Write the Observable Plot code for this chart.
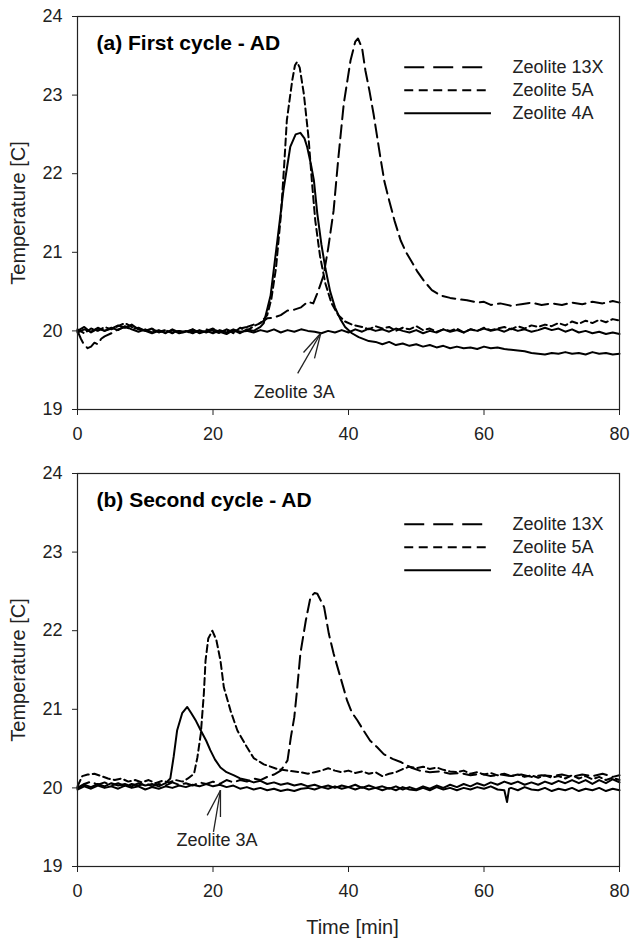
<!DOCTYPE html>
<html><head><meta charset="utf-8">
<script src="https://cdn.jsdelivr.net/npm/d3@7"></script>
<script src="https://cdn.jsdelivr.net/npm/@observablehq/plot@0.6"></script>
<style>body{margin:0;background:#fff} #chart svg{display:block}</style>
</head><body><div id="chart"></div>
<script>
// ---------- texts & ticks ----------
const xTicks = [0, 20, 40, 60, 80];
const yTicks = [19, 20, 21, 22, 23, 24];
const seriesNames = ["Zeolite 13X", "Zeolite 5A", "Zeolite 4A"];
const annotationLabel = "Zeolite 3A";
const panelTitles = ["(a) First cycle - AD", "(b) Second cycle - AD"];
const xLabel = "Time [min]";
const yLabel = "Temperature [C]";

// ---------- panel (a): first cycle, [time min, temperature C] ----------
const a13X = [[0,20.0],[0.5,19.9],[1,19.82],[1.5,19.78],[2,19.8],[2.5,19.85],[3,19.83],[3.5,19.9],[4,19.93],[5,19.97],[6,20.02],[7,20.05],[8,20.02],[9,20.04],[10,20.0],[11,20.02],[12,19.99],[13,20.01],[14,19.98],[15,20.0],[16,19.97],[17,20.0],[18,19.98],[19,20.02],[20,20.0],[21,19.97],[22,20.02],[23,19.98],[24,20.03],[25,20.05],[26,20.08],[27,20.1],[28,20.16],[29,20.17],[30,20.2],[31,20.26],[32,20.27],[33,20.3],[34,20.37],[34.8,20.35],[35.5,20.5],[36.3,20.7],[37,21.05],[37.8,21.53],[38.5,22.2],[39.3,22.89],[40.3,23.44],[41,23.68],[41.4,23.72],[42,23.6],[42.5,23.31],[43.1,23.05],[43.7,22.76],[44.7,22.21],[45.3,21.9],[46.0,21.66],[46.8,21.4],[47.7,21.15],[48.5,21.0],[49.2,20.9],[50.2,20.75],[51.1,20.64],[52.3,20.52],[53.6,20.45],[55,20.42],[56.5,20.4],[57.5,20.39],[59,20.36],[60,20.37],[61,20.33],[62.4,20.35],[64,20.32],[65.5,20.34],[67,20.36],[68.5,20.33],[70,20.35],[71.5,20.33],[73,20.36],[74.5,20.34],[76,20.37],[77.5,20.35],[79,20.38],[80,20.36]];
const a5A = [[0,20.02],[1,19.97],[2,20.03],[3,20.0],[4,20.05],[5,20.02],[6,20.06],[7,20.1],[8,20.05],[9,20.03],[10,20.0],[11,20.03],[12,19.98],[13,20.01],[14,19.97],[15,20.0],[16,19.98],[17,20.02],[18,19.97],[19,20.0],[20,20.03],[21,19.98],[22,20.02],[23,19.97],[24,20.04],[25,20.0],[26,20.06],[27,20.1],[28,20.2],[28.6,20.4],[29.3,20.8],[30,21.45],[30.5,22.1],[30.9,22.68],[31.7,23.19],[32.1,23.38],[32.4,23.42],[32.8,23.35],[33.4,23.02],[34.1,22.46],[34.6,21.9],[35.1,21.4],[35.8,20.95],[36.6,20.6],[37.5,20.35],[38.5,20.2],[39.5,20.12],[40.5,20.08],[42,20.05],[43,20.02],[44,20.06],[45,20.03],[46,20.05],[47,20.0],[48,20.04],[49,20.02],[50,20.06],[51,20.01],[52,20.03],[53,19.99],[54,20.02],[55,20.0],[56,20.03],[57,19.98],[58,20.02],[59,20.0],[60,20.04],[61,20.01],[62,20.03],[63,20.05],[64,20.02],[65,20.06],[66,20.03],[67,20.07],[68,20.05],[69,20.08],[70,20.06],[71,20.1],[72,20.07],[73,20.12],[74,20.09],[75,20.13],[76,20.1],[77,20.14],[78,20.11],[79,20.15],[80,20.13]];
const a4A = [[0,20.0],[1,20.05],[2,19.98],[3,20.03],[4,20.0],[5,20.04],[6,20.01],[7,20.06],[8,20.02],[9,19.99],[10,20.02],[11,19.98],[12,20.01],[13,19.97],[14,20.02],[15,19.98],[16,20.0],[17,19.97],[18,20.01],[19,19.98],[20,20.02],[21,19.99],[22,19.96],[23,20.01],[24,19.97],[25,20.02],[26,20.0],[27,20.05],[27.5,20.1],[28.5,20.45],[29.5,21.15],[30.4,21.79],[31.4,22.34],[32.2,22.5],[32.9,22.52],[33.5,22.45],[33.9,22.34],[34.5,22.1],[34.9,21.91],[35.4,21.49],[36.0,21.1],[36.6,20.79],[37.3,20.5],[38,20.3],[38.8,20.15],[39.5,20.05],[40.5,19.97],[41.5,19.92],[43,19.87],[44,19.86],[45,19.83],[46,19.86],[47,19.82],[48,19.84],[49,19.81],[50,19.83],[51,19.8],[52,19.82],[53,19.79],[54,19.81],[55,19.78],[56,19.8],[57,19.78],[58,19.79],[59,19.77],[60,19.8],[61,19.78],[62,19.79],[63,19.77],[64,19.76],[65,19.75],[66,19.74],[67,19.72],[68,19.71],[69,19.7],[70,19.72],[71,19.71],[72,19.73],[73,19.71],[74,19.72],[75,19.7],[76,19.73],[77,19.71],[78,19.72],[79,19.7],[80,19.71]];
const a3A = [[0,19.98],[1,20.02],[2,19.99],[3,20.04],[4,20.0],[5,20.03],[6,20.07],[7,20.04],[8,20.08],[9,20.02],[10,20.0],[11,19.97],[12,20.0],[13,19.98],[14,20.01],[15,19.97],[16,19.99],[17,20.02],[18,19.98],[19,20.0],[20,19.97],[21,20.01],[22,19.98],[23,20.02],[24,19.99],[25,20.0],[26,19.98],[27,20.01],[28,19.99],[29,20.02],[30,19.98],[31,20.01],[32,19.99],[33,20.02],[34,20.0],[35,19.99],[36,19.97],[37,20.0],[38,19.98],[39,20.01],[40,19.98],[41,20.02],[42,19.99],[43,20.03],[44,20.0],[45,20.02],[46,19.99],[47,20.03],[48,20.0],[49,19.98],[50,20.01],[51,19.97],[52,20.0],[53,19.98],[54,20.02],[55,19.99],[56,20.01],[57,19.98],[58,20.02],[59,20.0],[60,20.03],[61,20.0],[62,20.02],[63,19.99],[64,20.03],[65,20.0],[66,20.02],[67,19.99],[68,20.01],[69,20.04],[70,20.01],[71,20.03],[72,19.99],[73,20.02],[74,19.98],[75,20.0],[76,19.97],[77,19.99],[78,19.96],[79,19.98],[80,19.96]];

// ---------- panel (b): second cycle ----------
const b13X = [[0,20.0],[1,20.05],[2,20.08],[3,20.04],[4,20.07],[5,20.03],[6,20.06],[7,20.02],[8,20.05],[9,20.03],[10,20.06],[11,20.02],[12,20.05],[13,20.03],[14,20.07],[15,20.04],[16,20.06],[17,20.03],[18,20.07],[19,20.05],[20,20.08],[21,20.05],[22,20.1],[23,20.07],[24,20.1],[25,20.08],[26,20.12],[27,20.1],[28,20.14],[29,20.17],[30,20.22],[31.0,20.35],[31.5,20.65],[32.0,20.9],[32.4,21.24],[32.9,21.71],[33.7,22.13],[34.4,22.43],[35.0,22.48],[35.4,22.47],[36.4,22.3],[37.1,21.96],[37.8,21.71],[38.8,21.41],[39.8,21.11],[40.5,20.96],[41.3,20.86],[42.3,20.72],[43.2,20.6],[44.2,20.52],[45.2,20.43],[46.5,20.37],[47.7,20.33],[49.2,20.26],[50.5,20.22],[52,20.2],[53.5,20.21],[55,20.18],[56.5,20.19],[58,20.16],[59.5,20.18],[61,20.15],[62.5,20.17],[64,20.15],[65.5,20.17],[67,20.14],[68.5,20.16],[70,20.15],[71.5,20.17],[73,20.14],[74.5,20.17],[76,20.15],[77.5,20.18],[79,20.14],[80,20.16]];
const b5A = [[0,20.02],[0.7,20.15],[1.5,20.17],[2.5,20.18],[3.5,20.15],[4.5,20.12],[5.5,20.1],[6.5,20.12],[7.5,20.08],[8.5,20.1],[9.5,20.07],[10.5,20.1],[11.5,20.06],[12.5,20.09],[13.5,20.07],[14.5,20.1],[15.5,20.08],[16.3,20.12],[17.2,20.18],[17.7,20.39],[18.2,20.69],[18.65,21.2],[18.9,21.62],[19.3,21.9],[19.9,22.0],[20.5,21.88],[21.1,21.62],[21.6,21.28],[22.6,20.98],[23.6,20.73],[25.0,20.52],[26.0,20.38],[27.5,20.3],[29.5,20.24],[31,20.22],[32.9,20.2],[34,20.18],[35,20.2],[36,20.22],[37,20.25],[38,20.22],[39,20.2],[40,20.22],[41,20.19],[42,20.21],[43,20.18],[44,20.2],[45,20.15],[46,20.18],[47,20.2],[48,20.24],[49,20.27],[50,20.25],[51,20.27],[52,20.24],[53,20.26],[54,20.23],[55,20.21],[56,20.2],[57,20.22],[58,20.18],[59,20.2],[60,20.17],[61,20.19],[62,20.16],[63,20.18],[64,20.15],[65,20.17],[66,20.14],[67,20.16],[68,20.13],[69,20.16],[70,20.13],[71,20.15],[72,20.12],[73,20.16],[74,20.12],[75,20.15],[76,20.11],[77,20.14],[78,20.1],[79,20.13],[80,20.1]];
const b4A = [[0,20.0],[1,20.04],[2,20.01],[3,20.05],[4,20.02],[5,20.06],[6,20.03],[7,20.05],[8,20.02],[9,20.06],[10,20.03],[11,20.05],[12,20.02],[13,20.06],[13.7,20.12],[14.2,20.4],[14.7,20.73],[15.45,20.95],[16.2,21.03],[16.8,20.95],[17.5,20.85],[18.2,20.73],[19.0,20.6],[19.6,20.48],[20.3,20.36],[21.1,20.26],[22,20.2],[23.1,20.16],[24,20.12],[25,20.1],[26,20.07],[27,20.09],[28,20.05],[29,20.07],[30,20.04],[31,20.06],[32,20.03],[33,20.05],[34,20.02],[35,20.04],[36,20.01],[37,20.03],[38,20.0],[39,20.03],[40,20.01],[41,20.04],[42,20.0],[43,20.03],[44,20.0],[45,20.02],[46,19.99],[47,20.02],[48,19.98],[49,20.01],[50,19.98],[51,20.02],[52,19.99],[53,20.03],[54,20.0],[55,20.04],[56,20.01],[57,20.05],[58,20.02],[59,20.06],[60,20.03],[61,20.07],[62,20.04],[63,20.08],[64,20.05],[65,20.08],[66,20.04],[67,20.07],[68,20.04],[69,20.08],[70,20.05],[71,20.09],[72,20.06],[73,20.1],[74,20.06],[75,20.1],[76,20.05],[77,20.1],[78,20.06],[79,20.11],[80,20.07]];
const b3A = [[0,19.98],[1,20.02],[2,19.99],[3,20.03],[4,20.0],[5,20.02],[6,19.99],[7,20.03],[8,20.0],[9,20.02],[10,19.98],[11,20.01],[12,19.99],[13,20.02],[14,20.0],[15,20.03],[16,20.01],[17,20.04],[18,20.02],[19,20.05],[20,20.02],[21,20.04],[22,20.01],[23,20.03],[24,19.99],[25,20.01],[26,19.98],[27,20.0],[28,19.97],[29,19.99],[30,19.96],[31,19.98],[32,19.96],[33,19.99],[34,20.0],[35,19.98],[36,20.01],[37,19.99],[38,20.02],[39,19.99],[40,20.01],[41,19.98],[42,20.01],[43,19.98],[44,20.0],[45,19.97],[46,20.0],[47,19.97],[48,20.01],[49,19.98],[50,19.97],[51,20.0],[52,19.97],[53,20.01],[54,19.98],[55,20.0],[56,19.97],[57,20.0],[58,19.98],[59,20.01],[60,19.99],[61,20.02],[62,19.98],[63,19.97],[63.4,19.82],[63.7,19.99],[64,20.0],[65,19.97],[66,20.01],[67,19.98],[68,19.97],[69,20.0],[70,19.96],[71,19.99],[72,19.97],[73,20.0],[74,19.96],[75,19.99],[76,19.97],[77,20.0],[78,19.96],[79,19.99],[80,19.97]];

// ---------- "Zeolite 3A" annotation arrows (data units) ----------
const arrowTailsA = [[32.5,19.46],[33.36,19.725],[34.98,19.65]];
const arrowTipA = [35.9,19.97];
const labelPosA = [32.0,19.22];
const arrowTailsB = [[20.07,19.44],[19.14,19.65],[21.1,19.63]];
const arrowTipB = [21.1,19.97];
const labelPosB = [20.6,19.33];

// ---------- drawing ----------
const FONT = "'Liberation Sans', Arial, Helvetica, sans-serif";
const INK = "#222";
const dash13X = "13,6", dash5A = "7,4";
const legendDash = ["20,9", "9,5.5", null];
const legendTop = 23.355, legendStep = 0.293;
const legendX1 = 48.3, legendX2 = 61.1, legendTextX = 64.2;

function panel({series, title, tails, tip, labelPos, height, marginBottom, showXLabel}) {
  const [s13X, s5A, s4A, s3A] = series;
  const marks = [
    Plot.line(s3A, {stroke: "#000", strokeWidth: 2}),
    Plot.line(s4A, {stroke: "#000", strokeWidth: 2}),
    Plot.line(s5A, {stroke: "#000", strokeWidth: 2, strokeDasharray: dash5A}),
    Plot.line(s13X, {stroke: "#000", strokeWidth: 2, strokeDasharray: dash13X}),
    Plot.frame({stroke: INK, strokeWidth: 1.2}),
    Plot.axisX({ticks: xTicks, tickFormat: d3.format("d"), tickSize: 6, tickPadding: 12, label: null, stroke: INK, fill: INK}),
    Plot.axisY({ticks: yTicks, tickFormat: d3.format("d"), tickSize: 5, tickPadding: 10, label: null, stroke: INK, fill: INK}),
    Plot.text([title], {text: d => d, frameAnchor: "top-left", dx: 19, dy: 27, lineAnchor: "middle",
      textAnchor: "start", fontWeight: "bold", fontSize: 21, fill: "#000"}),
    Plot.text([yLabel], {text: d => d, frameAnchor: "left", dx: -59, rotate: -90, textAnchor: "middle",
      lineAnchor: "middle", fontSize: 20, fill: INK}),
    Plot.link(tails, {x1: d => d[0], y1: d => d[1], x2: tip[0], y2: tip[1], stroke: INK, strokeWidth: 1.3}),
    Plot.text([annotationLabel], {text: d => d, x: labelPos[0], y: labelPos[1], fontSize: 18, fill: INK}),
    Plot.text(seriesNames, {text: d => d, x: legendTextX, y: (d, i) => legendTop - i * legendStep,
      textAnchor: "start", fontSize: 18, fill: INK})
  ];
  seriesNames.forEach((n, i) => {
    marks.push(Plot.ruleY([legendTop - i * legendStep], {x1: legendX1, x2: legendX2, stroke: "#000",
      strokeWidth: 2, strokeDasharray: legendDash[i] || undefined}));
  });
  if (showXLabel) {
    marks.push(Plot.text([xLabel], {text: d => d, frameAnchor: "bottom", dx: 4, dy: 61, lineAnchor: "middle",
      textAnchor: "middle", fontSize: 20, fill: INK}));
  }
  return Plot.plot({
    width: 630, height, marginLeft: 77, marginRight: 11, marginTop: 16, marginBottom,
    x: {domain: [0, 80]}, y: {domain: [19, 24]},
    style: {fontFamily: FONT, fontSize: "18px", color: INK, background: "#fff", overflow: "visible"},
    marks
  });
}

const root = document.getElementById("chart");
root.append(panel({series: [a13X, a5A, a4A, a3A], title: panelTitles[0], tails: arrowTailsA, tip: arrowTipA,
  labelPos: labelPosA, height: 457, marginBottom: 48, showXLabel: false}));
root.append(panel({series: [b13X, b5A, b4A, b3A], title: panelTitles[1], tails: arrowTailsB, tip: arrowTipB,
  labelPos: labelPosB, height: 484, marginBottom: 75, showXLabel: true}));
</script>
</body></html>
